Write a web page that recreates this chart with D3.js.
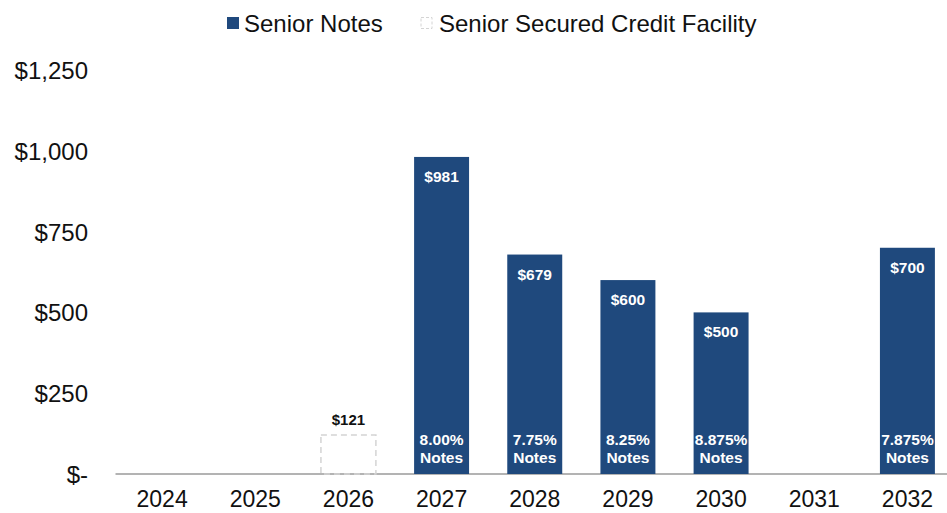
<!DOCTYPE html>
<html>
<head>
<meta charset="utf-8">
<script src="https://cdn.jsdelivr.net/npm/d3@7"></script>
<style>
  html, body { margin: 0; padding: 0; background: #fff; }
  svg { display: block; font-family: "Liberation Sans", Arial, sans-serif; }
</style>
</head>
<body>
<svg id="chart" width="947" height="513"></svg>
<script>
// Debt maturity schedule ($ millions)
const years = ["2024", "2025", "2026", "2027", "2028", "2029", "2030", "2031", "2032"];
const seniorNotes = [0, 0, 0, 981, 679, 600, 500, 0, 700];
const creditFacility = [0, 0, 121, 0, 0, 0, 0, 0, 0];
const noteRates = ["", "", "", "8.00%", "7.75%", "8.25%", "8.875%", "", "7.875%"];
const yTicks = [0, 250, 500, 750, 1000, 1250];

const navy = "#1f497d";
const svg = d3.select("#chart");

const x = d3.scaleBand().domain(years).range([115.5, 954]).paddingInner(0.41).paddingOuter(0.205);
const y = d3.scaleLinear().domain([0, 1250]).range([474, 70]);

const fmt = v => v === 0 ? "$-" : "$" + d3.format(",")(v);

// y axis labels (no axis line)
const yAxis = svg.append("g")
  .attr("transform", "translate(88,0)")
  .call(d3.axisLeft(y).tickValues(yTicks).tickFormat(fmt).tickSize(0).tickPadding(0));
yAxis.select(".domain").remove();
yAxis.selectAll("text").attr("font-size", 24).attr("fill", "#111").attr("dy", "0.35em");

// x axis
const xAxis = svg.append("g")
  .attr("transform", `translate(0,${y(0)})`)
  .call(d3.axisBottom(x).tickSize(0).tickPadding(17));
xAxis.select(".domain").attr("stroke", "#9a9a9a").attr("stroke-width", 1.5)
  .attr("d", `M115.5,0H947`);
xAxis.selectAll("text").attr("font-size", 23).attr("fill", "#111").attr("dy", "0.71em");

// Senior secured credit facility (dashed outline)
const fac = years.map((yr, i) => ({ yr, v: creditFacility[i] })).filter(d => d.v > 0);
svg.append("g").selectAll("rect").data(fac).join("rect")
  .attr("x", d => x(d.yr)).attr("width", x.bandwidth())
  .attr("y", d => y(d.v)).attr("height", d => y(0) - y(d.v))
  .attr("fill", "none").attr("stroke", "#d4d4d4").attr("stroke-width", 1.5)
  .attr("stroke-dasharray", "6,4");
svg.append("g").selectAll("text").data(fac).join("text")
  .attr("x", d => x(d.yr) + x.bandwidth() / 2).attr("y", d => y(d.v) - 10)
  .attr("text-anchor", "middle").attr("font-size", 15).attr("font-weight", "bold").attr("fill", "#111")
  .text(d => fmt(d.v));

// Senior notes bars
const notes = years.map((yr, i) => ({ yr, v: seniorNotes[i], rate: noteRates[i] })).filter(d => d.v > 0);
const g = svg.append("g");
g.selectAll("rect").data(notes).join("rect")
  .attr("x", d => x(d.yr)).attr("width", x.bandwidth())
  .attr("y", d => y(d.v)).attr("height", d => y(0) - y(d.v))
  .attr("fill", navy);
g.selectAll("text.val").data(notes).join("text").attr("class", "val")
  .attr("x", d => x(d.yr) + x.bandwidth() / 2).attr("y", d => y(d.v) + 25)
  .attr("text-anchor", "middle").attr("font-size", 15.5).attr("font-weight", "bold").attr("fill", "#fff")
  .text(d => fmt(d.v));
g.selectAll("text.rate").data(notes).join("text").attr("class", "rate")
  .attr("x", d => x(d.yr) + x.bandwidth() / 2).attr("y", y(0) - 29)
  .attr("text-anchor", "middle").attr("font-size", 15.5).attr("font-weight", "bold").attr("fill", "#fff")
  .text(d => d.rate);
g.selectAll("text.lbl").data(notes).join("text").attr("class", "lbl")
  .attr("x", d => x(d.yr) + x.bandwidth() / 2).attr("y", y(0) - 11)
  .attr("text-anchor", "middle").attr("font-size", 15.5).attr("font-weight", "bold").attr("fill", "#fff")
  .text("Notes");

// Legend
const leg = svg.append("g");
leg.append("rect").attr("x", 227).attr("y", 17).attr("width", 12).attr("height", 12).attr("fill", navy);
leg.append("text").attr("x", 244).attr("y", 32).attr("font-size", 24).attr("fill", "#111").text("Senior Notes");
leg.append("rect").attr("x", 421).attr("y", 17.5).attr("width", 11).attr("height", 11)
  .attr("fill", "none").attr("stroke", "#d4d4d4").attr("stroke-width", 1).attr("stroke-dasharray", "3,2");
leg.append("text").attr("x", 439).attr("y", 32).attr("font-size", 24).attr("fill", "#111").text("Senior Secured Credit Facility");
</script>
</body>
</html>
